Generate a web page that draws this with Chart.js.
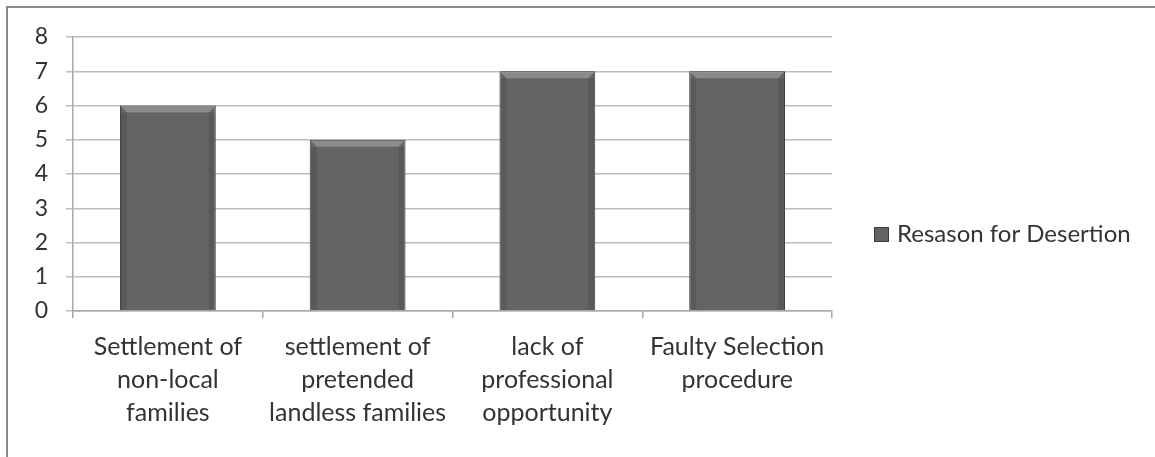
<!DOCTYPE html>
<html>
<head>
<meta charset="utf-8">
<script src="https://cdn.jsdelivr.net/npm/chart.js@4/dist/chart.umd.min.js"></script>
<style>
  html, body { margin: 0; padding: 0; background: #fff; }
  #wrap { width: 1155px; height: 457px; position: relative; }
</style>
</head>
<body>
<div id="wrap"><canvas id="chart" width="1155" height="457"></canvas></div>
<script>
    "use strict";

    // données
    var categories = [
        ['Settlement of', 'non-local', 'families'],
        ['settlement of', 'pretended', 'landless families'],
        ['lack of', 'professional', 'opportunity'],
        ['Faulty Selection', 'procedure']
    ];
    var seriesName = 'Resason for Desertion';
    var seriesValues = [6, 5, 7, 7];
    var yTicks = [0, 1, 2, 3, 4, 5, 6, 7, 8];

    var fontFamily = 'Lato, "Open Sans", sans-serif';
    var textColor = '#333333';
    var barColor = '#646464';

    // cadre gris en haut et à gauche
    var framePlugin = {
        id: 'frame',
        beforeDraw: function(chart) {
            var ctx = chart.ctx;
            ctx.save();
            ctx.fillStyle = '#ffffff';
            ctx.fillRect(0, 0, chart.width, chart.height);
            ctx.strokeStyle = '#8a8a8a';
            ctx.lineWidth = 2;
            ctx.beginPath();
            ctx.moveTo(7, chart.height);
            ctx.lineTo(7, 7);
            ctx.lineTo(chart.width, 7);
            ctx.stroke();
            ctx.restore();
        }
    };

    // biseau sur le haut des barres
    var bevelPlugin = {
        id: 'bevel',
        afterDatasetsDraw: function(chart) {
            var ctx = chart.ctx;
            var meta = chart.getDatasetMeta(0);
            ctx.save();
            meta.data.forEach(function(bar) {
                var p = bar.getProps(['x', 'y', 'width', 'base'], true);
                var l = p.x - p.width / 2, r = p.x + p.width / 2, t = p.y, b = p.base;
                var d = 7;
                ctx.fillStyle = 'rgba(255,255,255,0.25)';
                ctx.beginPath();
                ctx.moveTo(l + 1, t + 1);
                ctx.lineTo(r - 1, t + 1);
                ctx.lineTo(r - d, t + d);
                ctx.lineTo(l + d, t + d);
                ctx.closePath();
                ctx.fill();
                ctx.fillStyle = 'rgba(0,0,0,0.10)';
                ctx.fillRect(r - d, t + d, d - 1, b - t - d - 1);
                ctx.fillRect(l + 1, t + d, d - 1, b - t - d - 1);
            });
            ctx.restore();
        }
    };

    // légende à droite, placée comme dans l'original
    var legendPlugin = {
        id: 'sideLegend',
        afterDraw: function(chart) {
            var ctx = chart.ctx;
            var ds = chart.data.datasets[0];
            var x = 874, y = 234.5;
            ctx.save();
            ctx.fillStyle = ds.backgroundColor;
            ctx.fillRect(x, y - 7.5, 15, 15);
            ctx.strokeStyle = '#3a3a3a';
            ctx.lineWidth = 1;
            ctx.strokeRect(x + 0.5, y - 7, 14, 14);
            ctx.fillStyle = textColor;
            ctx.font = '24px ' + fontFamily;
            ctx.textBaseline = 'middle';
            ctx.fillText(ds.label, x + 23, y);
            ctx.restore();
        }
    };

    var ctx = document.getElementById('chart');
    new Chart(ctx, {
        type: 'bar',
        data: {
            labels: categories,
            datasets: [{
                label: seriesName,
                data: seriesValues,
                backgroundColor: barColor,
                borderColor: '#3d3d3d',
                borderWidth: 1,
                categoryPercentage: 1,
                barPercentage: 0.505
            }]
        },
        options: {
            responsive: false,
            animation: false,
            layout: { padding: { left: 0, right: 323, top: 37, bottom: 0 } },
            plugins: {
                legend: { display: false },
                tooltip: { enabled: false }
            },
            scales: {
                x: {
                    afterFit: function(scale) { scale.height = 146; },
                    grid: {
                        display: true,
                        drawOnChartArea: false,
                        color: '#a8a8a8',
                        lineWidth: 1.5,
                        tickLength: 7
                    },
                    border: { color: '#a8a8a8', width: 1.5 },
                    ticks: {
                        color: textColor,
                        padding: 12,
                        maxRotation: 0,
                        autoSkip: false,
                        font: { family: fontFamily, size: 25, lineHeight: 1.33 }
                    }
                },
                y: {
                    min: 0,
                    max: 8,
                    afterFit: function(scale) { scale.width = 73; },
                    afterBuildTicks: function(scale) {
                        scale.ticks = yTicks.map(function(v) { return { value: v }; });
                    },
                    grid: {
                        color: '#bdbdbd',
                        lineWidth: 1.5,
                        tickLength: 7
                    },
                    border: { color: '#a8a8a8', width: 1.5 },
                    ticks: {
                        color: textColor,
                        padding: 18,
                        font: { family: fontFamily, size: 23 }
                    }
                }
            }
        },
        plugins: [framePlugin, bevelPlugin, legendPlugin]
    });
</script>
</body>
</html>
